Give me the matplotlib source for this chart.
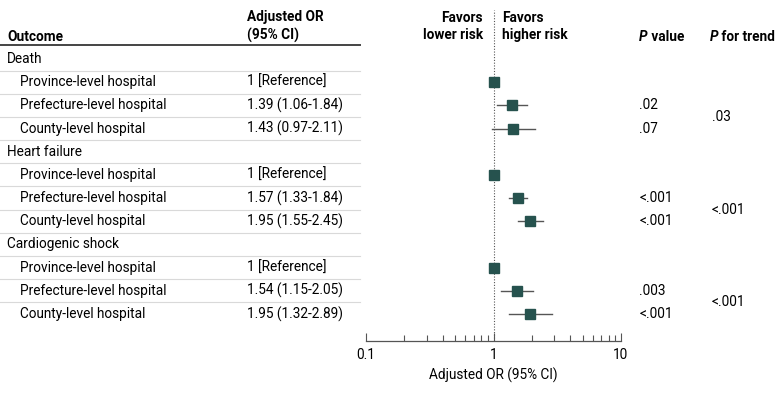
import numpy as np
import matplotlib.pyplot as plt
import matplotlib.transforms as mtransforms

plt.rcParams['font.family'] = ['Roboto', 'DejaVu Sans']

# ---- data ----
groups = ["Death", "Heart failure", "Cardiogenic shock"]
levels = ["Province-level hospital", "Prefecture-level hospital", "County-level hospital"]
or_vals = [[1.0, 1.39, 1.43], [1.0, 1.57, 1.95], [1.0, 1.54, 1.95]]
ci_low = [[1.0, 1.06, 0.97], [1.0, 1.33, 1.55], [1.0, 1.15, 1.32]]
ci_high = [[1.0, 1.84, 2.11], [1.0, 1.84, 2.45], [1.0, 2.05, 2.89]]
or_text = [["1 [Reference]", "1.39 (1.06-1.84)", "1.43 (0.97-2.11)"],
           ["1 [Reference]", "1.57 (1.33-1.84)", "1.95 (1.55-2.45)"],
           ["1 [Reference]", "1.54 (1.15-2.05)", "1.95 (1.32-2.89)"]]
p_vals = [["", ".02", ".07"], ["", "<.001", "<.001"], ["", ".003", "<.001"]]
p_trend = [".03", "<.001", "<.001"]

W, H = 783, 393
fig = plt.figure(figsize=(W / 100, H / 100), dpi=100)

# forest axes placed in pixel terms
x0, x1 = 366, 621
y_top, y_bot = 10, 341
ax = fig.add_axes([x0 / W, 1 - y_bot / H, (x1 - x0) / W, (y_bot - y_top) / H])
ax.set_xscale('log')
ax.set_xlim(0.1, 10)
row_h = 23.18
ax.set_ylim((y_bot - 59) / row_h, (y_top - 59) / row_h)

for s in ['top', 'left', 'right']:
    ax.spines[s].set_visible(False)
ax.spines['bottom'].set_color('#555555')
ax.spines['bottom'].set_linewidth(0.9)
ax.set_yticks([])
ax.set_xticks([0.1, 1, 10])
ax.set_xticklabels(["0.1", "1", "10"])
ax.tick_params(axis='x', which='major', direction='in', length=6, width=0.8,
               color='#555555', labelsize=9.8, pad=5)
ax.tick_params(axis='x', which='minor', direction='in', length=4, width=0.8,
               color='#555555')
ax.set_xlabel("Adjusted OR (95% CI)", fontsize=9.8, labelpad=4)
ax.axvline(1, color='#555555', linestyle=(0, (1, 1.5)), linewidth=0.8, zorder=1)

tr = mtransforms.blended_transform_factory(fig.transFigure, ax.transData)

def fx(px):
    return px / W

fs = 9.8
row = 0
for g in range(len(groups)):
    fig.text(fx(7), row, groups[g], transform=tr, fontsize=fs, va='center')
    ax.plot([fx(0), fx(360)], [row + 0.5, row + 0.5], transform=tr,
            color='#d9d9d9', lw=0.8, clip_on=False)
    first = row + 1
    for k in range(len(levels)):
        row += 1
        fig.text(fx(20), row, levels[k], transform=tr, fontsize=fs, va='center')
        fig.text(fx(247), row, or_text[g][k], transform=tr, fontsize=fs, va='center')
        if p_vals[g][k]:
            fig.text(fx(639), row, p_vals[g][k], transform=tr, fontsize=fs, va='center')
        if k < len(levels) - 1 or g < len(groups) - 1:
            ax.plot([fx(0), fx(360)], [row + 0.5, row + 0.5], transform=tr,
                    color='#d9d9d9', lw=0.8, clip_on=False)
        ax.plot([ci_low[g][k], ci_high[g][k]], [row, row], color='#555555',
                lw=1.0, zorder=2)
        ax.plot(or_vals[g][k], row, marker='s', markersize=6.5, color='#26524e',
                markeredgecolor='#26524e', linestyle='none', zorder=3)
    fig.text(fx(712), (first + 1.5), p_trend[g], transform=tr, fontsize=fs, va='center')
    row += 1

# header
hdr1 = -0.95   # single-line header row (baseline row of the two-line ones)
hdr2 = -1.40   # centre of the two-line headers
fig.text(fx(7), hdr1, "Outcome", transform=tr, fontsize=fs, weight='bold', va='center')
fig.text(fx(247), hdr2, "Adjusted OR\n(95% CI)", transform=tr, fontsize=fs,
         weight='bold', va='center', linespacing=1.35)
ax.plot([fx(0), fx(360)], [-0.6, -0.6], transform=tr, color='#444444', lw=1.4,
        clip_on=False)
fig.text(fx(483), hdr2, "Favors\nlower risk", transform=tr, fontsize=fs,
         weight='bold', va='center', ha='right', multialignment='right', linespacing=1.35)
fig.text(fx(502), hdr2, "Favors\nhigher risk", transform=tr, fontsize=fs,
         weight='bold', va='center', ha='left', linespacing=1.35)
t1 = fig.text(fx(639), hdr1, "P", transform=tr, fontsize=fs, weight='bold',
              style='italic', va='center')
t2 = fig.text(fx(710), hdr1, "P", transform=tr, fontsize=fs, weight='bold',
              style='italic', va='center')
for t, s in [(t1, " value"), (t2, " for trend")]:
    ax.annotate(s, xy=(1, 0), xycoords=t, fontsize=fs, weight='bold', va='bottom')

plt.savefig("out.png", dpi=100)
